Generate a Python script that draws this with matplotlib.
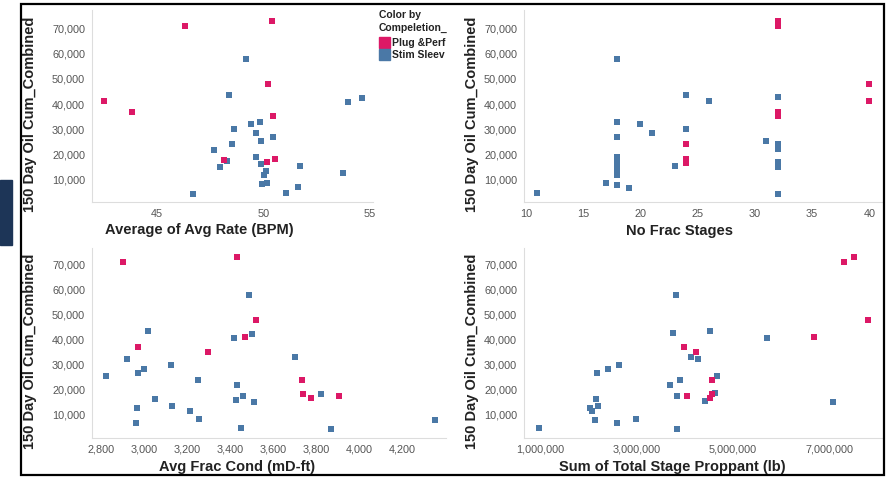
import matplotlib
matplotlib.use("Agg")
import matplotlib.pyplot as plt
from matplotlib.patches import Rectangle
from matplotlib.ticker import FuncFormatter

plt.rcParams['font.family'] = ['Liberation Sans', 'DejaVu Sans']

PINK = "#dc1866"
BLUE = "#4a78a6"

# Average of Avg Rate (BPM) vs oil
rate_pp_x = [46.31, 50.39, 50.24, 42.5, 43.83, 50.44, 48.16, 50.16, 50.57]
rate_pp_y = [71050, 73000, 47850, 41400, 37000, 35300, 17900, 17000, 18400]
rate_ss_x = [49.17, 48.38, 54.0, 54.66, 48.63, 49.43, 49.84, 49.67, 49.9, 50.47,
             48.51, 47.69, 48.29, 47.96, 49.67, 49.9, 50.11, 50.05, 51.73, 53.74,
             49.95, 50.16, 51.62, 51.07, 46.67]
rate_ss_y = [58000, 43600, 41000, 42600, 30000, 32300, 33100, 28500, 25300, 26900,
             24200, 22000, 17400, 15300, 19000, 16300, 13700, 12100, 15700, 12900,
             8400, 8800, 7100, 4900, 4600]

# No Frac Stages vs oil
stages_pp_x = [32, 32, 32, 32, 24, 24, 24, 40, 40]
stages_pp_y = [73000, 71000, 37000, 35300, 24200, 18400, 16900, 48000, 41400]
stages_ss_x = [11, 18, 24, 26, 32, 18, 20, 21, 24, 18, 31, 32, 32, 18, 18, 18, 18,
               18, 23, 32, 32, 17, 18, 19, 32]
stages_ss_y = [5000, 58000, 43600, 41100, 42700, 33100, 32300, 28500, 30000, 26900,
               25400, 24200, 22300, 19200, 17500, 15700, 13700, 11800, 15700, 17300,
               15300, 8700, 8200, 7000, 4500]

# Avg Frac Cond (mD-ft) vs oil
cond_pp_x = [2904, 3430, 3518, 2973, 3467, 3299, 3735, 3740, 3774, 3907]
cond_pp_y = [70900, 72900, 47800, 36900, 40900, 35000, 24000, 18200, 16600, 17500]
cond_ss_x = [2825, 2919, 3018, 2970, 3000, 3127, 2966, 2961, 3050, 3131, 3214, 3255,
             3251, 3416, 3501, 3700, 3486, 3430, 3427, 3461, 3511, 3449, 3821, 3869,
             4353]
cond_ss_y = [25300, 32200, 43500, 26500, 28200, 29600, 12600, 6600, 16200, 13400,
             11500, 8300, 23800, 40500, 42300, 32900, 57800, 21900, 15700, 17300,
             14900, 4600, 18400, 4100, 8000]

# Sum of Total Stage Proppant (lb) vs oil
prop_pp_x = [7298000, 7498000, 7796000, 6675000, 3990000, 4232000, 4557000, 4052000,
             4564000, 4522000]
prop_pp_y = [70900, 72900, 47800, 40900, 36900, 35000, 24000, 17500, 18200, 16600]
prop_ss_x = [979000, 3817000, 3754000, 4522000, 5713000, 4128000, 4280000, 4661000,
             3907000, 3699000, 3837000, 4626000, 4419000, 7069000, 2176000, 2398000,
             2633000, 2149000, 2024000, 2066000, 2204000, 2135000, 2592000, 2993000,
             3830000]
prop_ss_y = [4600, 57800, 42400, 43500, 40400, 32900, 32200, 25300, 23800, 21900,
             17300, 18600, 15600, 14900, 26500, 28200, 29600, 16200, 12600, 11500,
             13400, 8000, 6600, 8300, 4100]

oil_ticks = [10000, 20000, 30000, 40000, 50000, 60000, 70000]
legend_labels = ["Plug &Perf", "Stim Sleev"]

W, H = 892, 478
fig = plt.figure(figsize=(W / 100, H / 100), dpi=100)


def rect(l, t, r, b):
    return [l / W, 1 - b / H, (r - l) / W, (b - t) / H]


comma = FuncFormatter(lambda v, p: f"{v:,.0f}")


def panel(box, px, py, sx, sy, xlim, ylim, xticks):
    ax = fig.add_axes(rect(*box))
    ax.scatter(sx, sy, marker="s", s=24, color=BLUE, linewidths=0, zorder=3)
    ax.scatter(px, py, marker="s", s=24, color=PINK, linewidths=0, zorder=3)
    ax.set_xlim(*xlim)
    ax.set_ylim(*ylim)
    ax.set_xticks(xticks)
    ax.set_yticks(oil_ticks)
    ax.xaxis.set_major_formatter(comma)
    ax.yaxis.set_major_formatter(comma)
    ax.tick_params(length=0, labelsize=7.8, labelcolor="#555555", pad=5)
    for s in ["top", "right"]:
        ax.spines[s].set_visible(False)
    for s in ["left", "bottom"]:
        ax.spines[s].set_color("#dddddd")
        ax.spines[s].set_linewidth(0.8)
    return ax


panel((92, 10, 373, 202), rate_pp_x, rate_pp_y, rate_ss_x, rate_ss_y,
      (41.93, 55.17), (1300, 77200), [45, 50, 55])
panel((524, 10, 883, 202), stages_pp_x, stages_pp_y, stages_ss_x, stages_ss_y,
      (9.83, 41.2), (1300, 77200), [10, 15, 20, 25, 30, 35, 40])
panel((92, 248, 446, 438), cond_pp_x, cond_pp_y, cond_ss_x, cond_ss_y,
      (2758, 4403), (700, 76400), list(range(2800, 4201, 200)))
panel((524, 248, 883, 438), prop_pp_x, prop_pp_y, prop_ss_x, prop_ss_y,
      (660000, 8110000), (700, 76400), [1000000, 3000000, 5000000, 7000000])

# axis titles
lab = dict(fontsize=10.5, fontweight="bold", color="#222222")
for x, y in [(30, 114), (472, 114), (30, 351), (472, 351)]:
    fig.text(x / W, 1 - y / H, "150 Day Oil Cum_Combined", rotation=90,
             ha="center", va="center", **lab)
fig.text(199 / W, 1 - 230 / H, "Average of Avg Rate (BPM)", ha="center", va="center", **lab)
fig.text(679 / W, 1 - 231 / H, "No Frac Stages", ha="center", va="center", **lab)
fig.text(237 / W, 1 - 467 / H, "Avg Frac Cond (mD-ft)", ha="center", va="center", **lab)
fig.text(672 / W, 1 - 467 / H, "Sum of Total Stage Proppant (lb)", ha="center", va="center", **lab)

# colour legend
leg = dict(fontsize=7.5, fontweight="bold", color="#222222", va="center", ha="left")
fig.text(379 / W, 1 - 15 / H, "Color by", **leg)
fig.text(379 / W, 1 - 28 / H, "Compeletion_", **leg)
for i, (c, name) in enumerate(zip([PINK, BLUE], legend_labels)):
    top = 37 + i * 12
    fig.patches.append(Rectangle((379 / W, 1 - (top + 11) / H), 11 / W, 11 / H,
                                 transform=fig.transFigure, color=c))
    fig.text(392 / W, 1 - (top + 5.5) / H, name, **leg)

# outer frame and side tab
fig.patches.append(Rectangle((21 / W, 1 - 475 / H), 863 / W, 471 / H, fill=False,
                             edgecolor="black", linewidth=1.6, transform=fig.transFigure))
fig.patches.append(Rectangle((0, 1 - 245 / H), 12 / W, 65 / H, color="#1d3557",
                             transform=fig.transFigure))

fig.savefig("out.png", dpi=100)
